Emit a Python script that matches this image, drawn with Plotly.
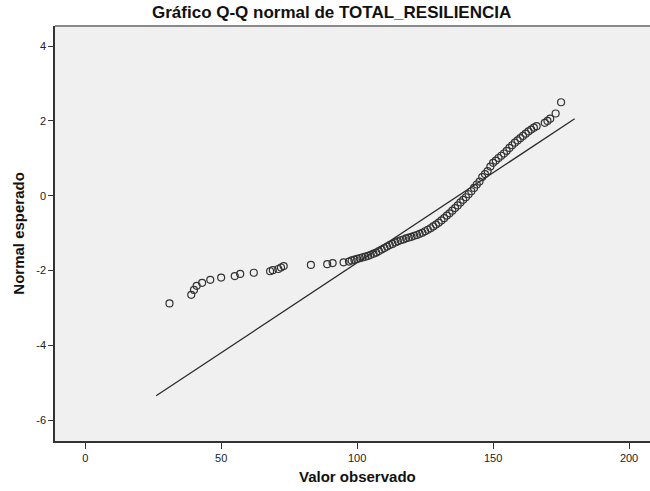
import plotly.graph_objects as go

observed = [31, 39, 40, 41, 43, 46, 50, 55, 57, 62, 68, 69, 71, 72, 73, 83, 89, 91, 95, 97,
            98, 99, 100, 101, 102, 103, 104, 105, 106, 107, 108, 109, 110, 111, 112, 113,
            114, 115, 116, 117, 118, 119, 120, 121, 122, 123, 124, 125, 126, 127, 128, 129,
            130, 131, 132, 133, 134, 135, 136, 137, 138, 139, 140, 141, 142, 143, 144, 145,
            146, 147, 148, 149, 150, 151, 152, 153, 154, 155, 156, 157, 158, 159, 160, 161,
            162, 163, 164, 165, 166, 169, 170, 171, 173, 175]
expected = [-2.88, -2.65, -2.52, -2.41, -2.33, -2.25, -2.19, -2.15, -2.09, -2.06, -2.02, -1.99,
            -1.96, -1.92, -1.88, -1.85, -1.83, -1.80, -1.78, -1.76,
            -1.73, -1.71, -1.69, -1.67, -1.65, -1.63, -1.61, -1.58, -1.55, -1.52, -1.48, -1.44,
            -1.40, -1.36, -1.32, -1.29, -1.25, -1.22, -1.19, -1.17, -1.14, -1.12, -1.10, -1.07,
            -1.05, -1.02, -0.99, -0.95, -0.91, -0.87, -0.82, -0.77, -0.72, -0.66, -0.60, -0.53,
            -0.47, -0.40, -0.33, -0.26, -0.18, -0.11, -0.04, 0.04, 0.12, 0.21, 0.30, 0.38,
            0.50, 0.58, 0.66, 0.78, 0.88, 0.94, 1.01, 1.07, 1.13, 1.20, 1.28, 1.35, 1.42, 1.48,
            1.54, 1.60, 1.66, 1.72, 1.77, 1.82, 1.86, 1.95, 2.00, 2.06, 2.20, 2.50]

# Reference normal line (endpoints as read)
line_x = [26.1, 180.0]
line_y = [-5.35, 2.06]

x_ticks = [0, 50, 100, 150, 200]
y_ticks = [-6, -4, -2, 0, 2, 4]

title_text = "Gráfico Q-Q normal de TOTAL_RESILIENCIA"
x_title = "Valor observado"
y_title = "Normal esperado"

W, H = 650, 491
PL, PT, PR, PB = 54.5, 25.7, 650, 441

fig = go.Figure()
fig.add_trace(go.Scatter(x=line_x, y=line_y, mode="lines",
                         line=dict(color="#2a2a2a", width=1.3), hoverinfo="skip"))
fig.add_trace(go.Scatter(x=observed, y=expected, mode="markers",
                         marker=dict(symbol="circle-open", size=7, color="#333333",
                                     line=dict(color="#333333", width=1.2))))

font_family = "Liberation Sans, Arial, sans-serif"
fig.update_layout(
    width=W, height=H,
    margin=dict(l=PL, r=W - PR, t=PT, b=H - PB, autoexpand=False),
    paper_bgcolor="white", plot_bgcolor="#F0F0F0",
    showlegend=False,
    font=dict(family=font_family, size=11, color="#222222"),
    xaxis=dict(range=[-11.1, 207.7], tickvals=x_ticks, ticktext=[str(v) for v in x_ticks],
               showgrid=False, zeroline=False, showline=True, linecolor="#333333",
               linewidth=1.5, ticks="outside", ticklen=6, tickwidth=1.2, tickcolor="#333333",
               tickfont=dict(size=11, color="#222222"), automargin=False),
    yaxis=dict(range=[-6.56, 4.54], tickvals=y_ticks, ticktext=[str(v) for v in y_ticks],
               showgrid=False, zeroline=False, showline=True, linecolor="#333333",
               linewidth=1.5, ticks="outside", ticklen=5, tickwidth=1.2, tickcolor="#333333",
               tickfont=dict(size=11, color="#222222"), automargin=False),
)
pw, ph = PR - PL, PB - PT
def px(xp):
    return (xp - PL) / pw
def py(yp):
    return (PB - yp) / ph

fig.add_annotation(text="<b>" + title_text + "</b>", xref="paper", yref="paper",
                   x=px(331), y=py(12.5), xanchor="center", yanchor="middle", showarrow=False,
                   font=dict(family=font_family, size=17, color="#111111"))
fig.add_annotation(text="<b>" + x_title + "</b>", xref="paper", yref="paper",
                   x=px(357), y=py(477), xanchor="center", yanchor="middle", showarrow=False,
                   font=dict(family=font_family, size=15, color="#111111"))
fig.add_annotation(text="<b>" + y_title + "</b>", xref="paper", yref="paper",
                   x=px(18), y=py(233), xanchor="center", yanchor="middle", showarrow=False,
                   textangle=-90, font=dict(family=font_family, size=15, color="#111111"))
fig.add_shape(type="line", xref="paper", yref="paper", x0=0, x1=1, y0=1, y1=1,
              line=dict(color="#8a8a8a", width=2))

# remove the default page margin so the figure sits at the window's top-left corner
fig.write_html("out.html", config={"displayModeBar": False},
               post_script="document.body.style.margin='0';")
